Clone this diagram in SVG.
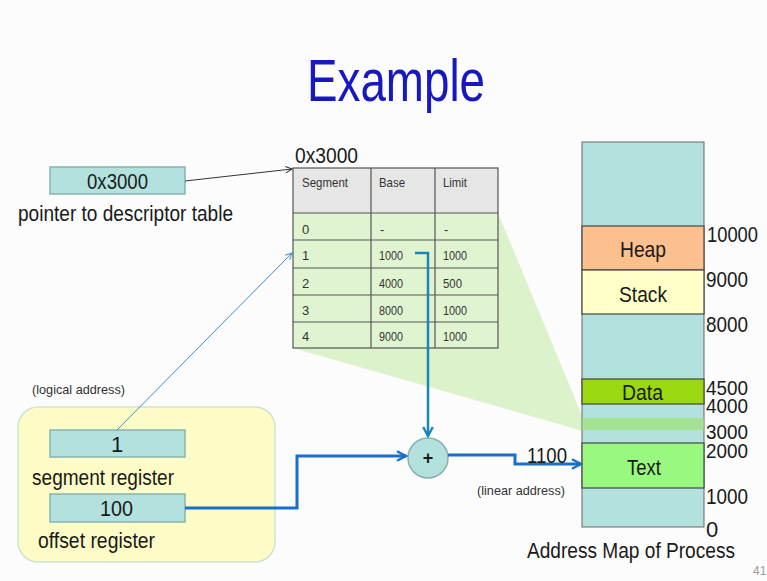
<svg xmlns="http://www.w3.org/2000/svg" width="767" height="581" viewBox="0 0 767 581">
  <style>
    text { font-family: "Liberation Sans", Arial, sans-serif; fill: #1a1a1a; }
    .reg { fill: #b3e2de; stroke: #86b4b0; stroke-width: 1.5; }
    .big { font-size: 22px; }
    .tick { font-size: 20px; }
    .small { font-size: 13px; fill: #333; }
    .cell { font-size: 13px; fill: #333; }
    .grid { fill: none; stroke: #555; stroke-width: 1.2; }
    .seg { stroke: #444; stroke-width: 1.2; }
  </style>
  <defs>
    <marker id="openThin" viewBox="0 0 10 10" refX="9" refY="5" markerWidth="8" markerHeight="8" orient="auto" markerUnits="userSpaceOnUse">
      <path d="M1,1 L9,5 L1,9" fill="none" stroke="context-stroke" stroke-width="1.2"/>
    </marker>
    <marker id="openThick" viewBox="0 0 10 10" refX="8.5" refY="5" markerWidth="12" markerHeight="12" orient="auto" markerUnits="userSpaceOnUse">
      <path d="M1,1 L8.5,5 L1,9" fill="none" stroke="context-stroke" stroke-width="2"/>
    </marker>
  </defs>

  <rect width="767" height="581" fill="#fbfcfb"/>

  <!-- title -->
  <text x="307" y="101" font-size="60" textLength="178" lengthAdjust="spacingAndGlyphs" style="fill:#1818c0">Example</text>

  <!-- projection of the table onto the address map -->
  <polygon points="293,213 498,213 583,418 583,431 293,348" fill="#d6f0c2" opacity="0.85"/>

  <!-- descriptor table pointer -->
  <g id="pointer">
    <rect class="reg" x="50" y="167" width="135" height="27"/>
    <text class="big" x="87" y="189" font-size="21" textLength="61" lengthAdjust="spacingAndGlyphs">0x3000</text>
    <text class="big" x="18" y="221" textLength="215" lengthAdjust="spacingAndGlyphs">pointer to descriptor table</text>
  </g>

  <!-- descriptor table -->
  <g id="descriptor-table">
    <text class="big" x="295" y="163" font-size="20" textLength="63" lengthAdjust="spacingAndGlyphs">0x3000</text>
    <rect x="293" y="168" width="205" height="45" fill="#e6e6e6"/>
    <rect x="293" y="213" width="205" height="135" fill="#e0f4d2"/>
    <rect class="grid" x="293" y="168" width="205" height="180"/>
    <path class="grid" d="M371,168 V348 M435,168 V348 M293,213 H498 M293,240 H498 M293,268 H498 M293,295 H498 M293,322 H498"/>
    <text class="cell" x="302" y="187" textLength="46" lengthAdjust="spacingAndGlyphs">Segment</text>
    <text class="cell" x="379" y="187" textLength="26" lengthAdjust="spacingAndGlyphs">Base</text>
    <text class="cell" x="443" y="187" textLength="24" lengthAdjust="spacingAndGlyphs">Limit</text>

    <text class="cell" x="302" y="234">0</text>
    <text class="cell" x="380" y="234">-</text>
    <text class="cell" x="444" y="234">-</text>

    <text class="cell" x="302" y="260">1</text>
    <text class="cell" x="379" y="260" textLength="24" lengthAdjust="spacingAndGlyphs">1000</text>
    <text class="cell" x="443" y="260" textLength="24" lengthAdjust="spacingAndGlyphs">1000</text>

    <text class="cell" x="302" y="288">2</text>
    <text class="cell" x="379" y="288" textLength="24" lengthAdjust="spacingAndGlyphs">4000</text>
    <text class="cell" x="443" y="288" textLength="19" lengthAdjust="spacingAndGlyphs">500</text>

    <text class="cell" x="302" y="315">3</text>
    <text class="cell" x="379" y="315" textLength="24" lengthAdjust="spacingAndGlyphs">8000</text>
    <text class="cell" x="443" y="315" textLength="24" lengthAdjust="spacingAndGlyphs">1000</text>

    <text class="cell" x="302" y="341">4</text>
    <text class="cell" x="379" y="341" textLength="24" lengthAdjust="spacingAndGlyphs">9000</text>
    <text class="cell" x="443" y="341" textLength="24" lengthAdjust="spacingAndGlyphs">1000</text>
  </g>

  <!-- logical address registers -->
  <g id="logical-address">
    <text class="small" x="32" y="394" textLength="93" lengthAdjust="spacingAndGlyphs">(logical address)</text>
    <rect x="18" y="407" width="257" height="155" rx="20" ry="20" fill="#fdfcc6" stroke="#cfe3cf" stroke-width="1.5"/>
    <rect class="reg" x="50" y="430" width="135" height="27"/>
    <text class="big" x="117" y="452" text-anchor="middle">1</text>
    <text class="big" x="32" y="485" textLength="142" lengthAdjust="spacingAndGlyphs">segment register</text>
    <rect class="reg" x="50" y="494" width="135" height="28"/>
    <text class="big" x="100" y="516" textLength="33" lengthAdjust="spacingAndGlyphs">100</text>
    <text class="big" x="38" y="548" textLength="117" lengthAdjust="spacingAndGlyphs">offset register</text>
  </g>

  <!-- adder -->
  <g id="adder">
    <circle cx="428" cy="458" r="20" fill="#b3e2de" stroke="#8aaeb0" stroke-width="1.5"/>
    <text x="428" y="464" font-size="18" text-anchor="middle" font-weight="bold">+</text>
  </g>

  <!-- address map of the process -->
  <g id="address-map">
    <rect x="582" y="142" width="122" height="385" fill="#b3e2de" stroke="#666" stroke-width="1"/>
    <rect class="seg" x="582" y="226" width="122" height="44" fill="#fcc08e"/>
    <rect class="seg" x="582" y="270" width="122" height="44" fill="#ffffc8"/>
    <rect class="seg" x="582" y="379" width="122" height="25" fill="#9ad80f"/>
    <rect x="582.5" y="418" width="121" height="12" fill="#a4e294"/>
    <rect class="seg" x="582" y="443" width="122" height="45" fill="#98f880"/>
    <text class="big" x="620" y="257" textLength="46" lengthAdjust="spacingAndGlyphs">Heap</text>
    <text class="big" x="619" y="302" textLength="48" lengthAdjust="spacingAndGlyphs">Stack</text>
    <text class="big" x="622" y="400" textLength="41" lengthAdjust="spacingAndGlyphs">Data</text>
    <text class="big" x="627" y="475" textLength="34" lengthAdjust="spacingAndGlyphs">Text</text>

    <text class="big" x="707" y="242" textLength="51" lengthAdjust="spacingAndGlyphs">10000</text>
    <text class="big" x="706" y="287" textLength="42" lengthAdjust="spacingAndGlyphs">9000</text>
    <text class="big" x="706" y="332" textLength="42" lengthAdjust="spacingAndGlyphs">8000</text>
    <text class="tick" x="706" y="395" textLength="42" lengthAdjust="spacingAndGlyphs">4500</text>
    <text class="tick" x="706" y="413" textLength="42" lengthAdjust="spacingAndGlyphs">4000</text>
    <text class="tick" x="706" y="439" textLength="42" lengthAdjust="spacingAndGlyphs">3000</text>
    <text class="tick" x="706" y="458" textLength="42" lengthAdjust="spacingAndGlyphs">2000</text>
    <text class="big" x="706" y="504" textLength="42" lengthAdjust="spacingAndGlyphs">1000</text>
    <text class="big" x="706" y="537">0</text>
    <text class="big" x="527" y="558" textLength="208" lengthAdjust="spacingAndGlyphs">Address Map of Process</text>
  </g>

  <!-- connectors -->
  <g id="connectors" fill="none">
    <line x1="185" y1="181" x2="292" y2="169" stroke="#333" stroke-width="1" marker-end="url(#openThin)"/>
    <line x1="117" y1="430" x2="292" y2="253" stroke="#3a8fd0" stroke-width="1" marker-end="url(#openThin)"/>
    <polyline points="185,508 297,508 297,456 406,456" stroke="#1a6fc8" stroke-width="3" marker-end="url(#openThick)"/>
    <polyline points="415,253 428,253 428,436" stroke="#1b87b6" stroke-width="2.5" marker-end="url(#openThick)"/>
    <polyline points="448,455 515,455 515,464 581,464" stroke="#1a6fc8" stroke-width="3" marker-end="url(#openThick)"/>
  </g>

  <!-- linear address labels -->
  <g id="linear-address">
    <text class="big" x="527" y="463" textLength="40" lengthAdjust="spacingAndGlyphs">1100</text>
    <text class="small" x="477" y="495" textLength="88" lengthAdjust="spacingAndGlyphs">(linear address)</text>
  </g>

  <text x="753" y="575" font-size="12" style="fill:#999">41</text>
</svg>
